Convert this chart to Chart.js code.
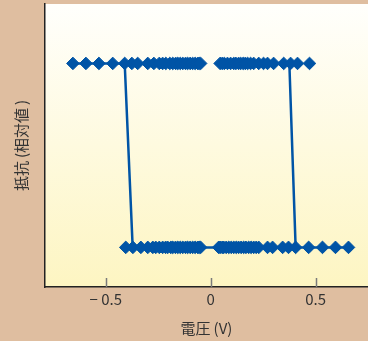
<!DOCTYPE html>
<html>
<head>
<meta charset="utf-8">
<script src="https://cdn.jsdelivr.net/npm/chart.js@4"></script>
<style>
  html, body { margin: 0; padding: 0; background: #dfbea0; }
  #wrap { width: 368px; height: 341px; }
</style>
</head>
<body>
<div id="wrap"><canvas id="c"></canvas></div>
<script>
// resistance levels (relative)
const highR = 0.79;
const lowR = 0.14;

// voltage of measured points on the high-resistance branch
const highVolts = [-0.657, -0.595, -0.533, -0.467, -0.41, -0.376, -0.348, -0.3, -0.271, -0.245, -0.229, -0.214,
  -0.195, -0.181, -0.167, -0.157, -0.145, -0.133, -0.12, -0.11, -0.098, -0.086, -0.074, -0.062, -0.055, -0.048,
  0.045, 0.055, 0.065, 0.08, 0.095, 0.11, 0.12, 0.133, 0.143, 0.155, 0.165, 0.176, 0.19, 0.205, 0.229, 0.252,
  0.271, 0.3, 0.348, 0.381, 0.414, 0.471];

// voltage of measured points on the low-resistance branch
const lowVolts = [-0.405, -0.371, -0.333, -0.3, -0.276, -0.262, -0.245, -0.229, -0.215, -0.205, -0.19, -0.181,
  -0.168, -0.157, -0.145, -0.133, -0.12, -0.11, -0.098, -0.086, -0.074, -0.062, -0.055, -0.048,
  0.038, 0.045, 0.055, 0.062, 0.074, 0.086, 0.098, 0.11, 0.122, 0.133, 0.145, 0.157, 0.168, 0.181, 0.193, 0.205,
  0.217, 0.229, 0.271, 0.295, 0.343, 0.371, 0.405, 0.467, 0.533, 0.595, 0.657];

// hysteresis loop trace [voltage, resistance], null breaks the line
const loopTrace = [
  [-0.657, highR], [-0.048, highR], null,
  [0.045, highR], [0.381, highR], null,
  [-0.41, highR], [-0.372, lowR], null,
  [0.375, highR], [0.405, lowR], null,
  [-0.405, lowR], [0.657, lowR]
];

const tickValues = [-0.5, 0, 0.5];

const blue = '#0054a6';
const fontFam = '"Noto Sans CJK JP", "Liberation Sans", sans-serif';

const points = highVolts.map(v => ({ x: v, y: highR })).concat(lowVolts.map(v => ({ x: v, y: lowR })));
const trace = loopTrace.map(p => p ? { x: p[0], y: p[1] } : { x: NaN, y: null });

const areaFill = {
  id: 'areaFill',
  beforeDraw(chart) {
    const { ctx, chartArea: a } = chart;
    const g = ctx.createLinearGradient(0, a.top, 0, a.bottom);
    g.addColorStop(0, '#fffffc');
    g.addColorStop(1, '#fdf5c2');
    ctx.save();
    ctx.fillStyle = g;
    ctx.fillRect(a.left, a.top, a.right - a.left, a.bottom - a.top);
    ctx.restore();
  },
  afterDraw(chart) {
    // inward tick marks on the x axis
    const { ctx, chartArea: a } = chart;
    const xs = chart.scales.x;
    ctx.save();
    ctx.strokeStyle = '#7a7a7a';
    ctx.lineWidth = 1.5;
    tickValues.forEach(v => {
      const px = Math.round(xs.getPixelForValue(v)) + 0.5;
      ctx.beginPath();
      ctx.moveTo(px, a.bottom);
      ctx.lineTo(px, a.bottom - 9);
      ctx.stroke();
    });
    ctx.restore();
  }
};

new Chart(document.getElementById('c'), {
  type: 'scatter',
  data: {
    datasets: [
      {
        data: points,
        pointStyle: 'rectRot',
        pointRadius: 6.3,
        backgroundColor: blue,
        borderColor: blue,
        borderWidth: 1,
        showLine: false,
        order: 1
      },
      {
        data: trace,
        showLine: true,
        spanGaps: false,
        pointRadius: 0,
        borderColor: blue,
        borderWidth: 2.5,
        order: 2
      }
    ]
  },
  options: {
    responsive: true,
    maintainAspectRatio: false,
    animation: false,
    layout: { autoPadding: false, padding: { top: 4, right: 0, left: 0, bottom: 0 } },
    plugins: { legend: { display: false }, tooltip: { enabled: false } },
    scales: {
      x: {
        type: 'linear',
        min: -0.79,
        max: 0.75,
        afterBuildTicks: s => { s.ticks = tickValues.map(v => ({ value: v })); },
        afterFit: s => { s.height = 54; },
        grid: { display: false, drawTicks: false },
        border: { display: true, color: '#222', width: 1.5 },
        ticks: {
          padding: 3,
          color: '#333',
          font: { family: fontFam, size: 15 },
          callback: v => v < 0 ? '− ' + Math.abs(v) : String(v)
        },
        title: {
          display: true,
          text: '電圧\u2009(V)',
          color: '#333',
          font: { family: fontFam, size: 15 },
          padding: { top: 2, bottom: 4 }
        }
      },
      y: {
        type: 'linear',
        min: 0,
        max: 1,
        afterFit: s => { s.width = 45; },
        grid: { display: false, drawTicks: false },
        border: { display: true, color: '#222', width: 1.5 },
        ticks: { display: false },
        title: {
          display: true,
          text: '抵抗\u2009(相対値\u2009)',
          color: '#333',
          font: { family: fontFam, size: 15 },
          padding: { top: 12, bottom: 0 }
        }
      }
    }
  },
  plugins: [areaFill]
});
</script>
</body>
</html>
